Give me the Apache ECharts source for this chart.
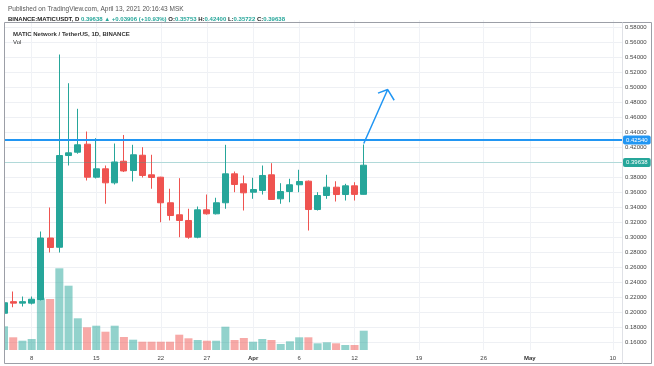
<!DOCTYPE html>
<html><head><meta charset="utf-8">
<script src="https://cdn.jsdelivr.net/npm/echarts@6/dist/echarts.min.js"></script>
<style>html,body{margin:0;padding:0;background:#fff}#c{width:654px;height:366px}</style>
</head><body><div id="c"></div>
<script>
// ---- categories (daily) ----
const dates = ['03-05','03-06','03-07','03-08','03-09','03-10','03-11','03-12','03-13','03-14',
'03-15','03-16','03-17','03-18','03-19','03-20','03-21','03-22','03-23','03-24','03-25','03-26',
'03-27','03-28','03-29','03-30','03-31','04-01','04-02','04-03','04-04','04-05','04-06','04-07',
'04-08','04-09','04-10','04-11','04-12','04-13','04-14','04-15','04-16','04-17','04-18','04-19',
'04-20','04-21','04-22','04-23','04-24','04-25','04-26','04-27','04-28','04-29','04-30','05-01',
'05-02','05-03','05-04','05-05','05-06','05-07','05-08','05-09','05-10','05-11'];
const tickDates = ['03-08','03-15','03-22','03-27','04-01','04-06','04-12','04-19','04-26','05-01','05-10'];
// ---- OHLC ----
const openP  = [0.199,0.2145,0.2125,0.2125,0.2173,0.2993,0.287,0.4093,0.4137,0.4244,0.3804,0.3916,0.3729,0.4017,0.3893,0.4097,0.3836,0.3804,0.3463,0.3303,0.3227,0.3004,0.3369,0.3316,0.3463,0.3849,0.3716,0.3604,0.3627,0.3836,0.3516,0.3613,0.3703,0.3751,0.3373,0.356,0.3671,0.3573,0.3689,0.35753];
const closeP = [0.213,0.2125,0.2145,0.2177,0.2993,0.2867,0.4093,0.4129,0.4236,0.3804,0.3916,0.3729,0.4007,0.3887,0.4103,0.3827,0.380,0.3463,0.3293,0.3227,0.3004,0.3369,0.3316,0.3463,0.3849,0.3707,0.3596,0.364,0.3827,0.3507,0.3613,0.3703,0.3747,0.3373,0.356,0.3671,0.3573,0.3689,0.3575,0.39638];
const lowP   = [0.193,0.207,0.208,0.2107,0.216,0.280,0.280,0.396,0.4117,0.376,0.3787,0.345,0.3707,0.3873,0.3747,0.380,0.365,0.3204,0.3227,0.3004,0.2983,0.299,0.3305,0.3307,0.3383,0.3604,0.336,0.3516,0.3573,0.350,0.345,0.347,0.3604,0.3093,0.336,0.3516,0.348,0.3493,0.3493,0.35722];
const highP  = [0.222,0.228,0.2213,0.2213,0.308,0.340,0.544,0.5057,0.4716,0.4413,0.4324,0.396,0.4253,0.4367,0.4236,0.4204,0.4103,0.381,0.365,0.3791,0.3383,0.3413,0.3573,0.353,0.4236,0.388,0.3827,0.3796,0.396,0.3991,0.3724,0.3783,0.3903,0.376,0.3604,0.3836,0.375,0.3716,0.3737,0.424];
// ---- volume (millions, estimated) ----
const volume = [237,127,93,110,517,510,817,643,317,227,243,183,243,130,103,83,83,83,83,153,117,100,93,93,233,100,120,83,110,100,60,87,127,127,67,77,67,50,50,193];
// ---- levels & drawing ----
const resistance = 0.4254;
const lastPrice = 0.39638;
const arrowIdx   = [39, 41.6, 40.55, 41.6, 42.3];
const arrowPrice = [0.4254, 0.4973, 0.4925, 0.4973, 0.4830];
const yTicks = {min:0.15, max:0.59, step:0.01};

const UP = '#26a69a', DOWN = '#ef5350';
const FONT = 'Liberation Sans, Arial, sans-serif';
const candleData = openP.map((o,i)=>[o, closeP[i], lowP[i], highP[i]]);
const volData = volume.map((v,i)=>({value:v, itemStyle:{color: closeP[i] >= openP[i] ? 'rgba(38,166,154,0.5)' : 'rgba(239,83,80,0.5)'}}));
const arrowData = arrowIdx.map((x,i)=>[x, arrowPrice[i]]);
const showTick = (idx, val) => tickDates.indexOf(val) >= 0;

const chart = echarts.init(document.getElementById('c'));
chart.setOption({
  animation: false,
  backgroundColor: '#fff',
  title: [
    {text:'Published on TradingView.com, April 13, 2021 20:16:43 MSK', left:3, top:1,
     textStyle:{fontSize:6.5, fontWeight:'normal', color:'#555', fontFamily:FONT}},
    {text:'{b|BINANCE:MATICUSDT, D} {g|0.39638 ▲ +0.03906 (+10.93%)} {k|O:}{g|0.35753} {k|H:}{g|0.42400} {k|L:}{g|0.35722} {k|C:}{g|0.39638}',
     left:3, top:11,
     textStyle:{fontSize:6, fontFamily:FONT, rich:{
       b:{fontSize:6, fontWeight:'bold', color:'#222', fontFamily:FONT},
       g:{fontSize:6, color:UP, fontFamily:FONT},
       k:{fontSize:6, color:'#222', fontFamily:FONT}}}},
    {text:'MATIC Network / TetherUS, 1D, BINANCE', left:8, top:26,
     textStyle:{fontSize:6, fontWeight:'bold', color:'#333', fontFamily:FONT}},
    {text:'Vol', left:8, top:34,
     textStyle:{fontSize:6, fontWeight:'normal', color:'#333', fontFamily:FONT}}
  ],
  grid: {left:4, right:32, top:20, bottom:16, containLabel:false},
  xAxis: [
    {type:'category', data:dates, boundaryGap:false, gridIndex:0,
     axisLine:{show:false}, axisTick:{show:false},
     axisLabel:{interval:showTick, margin:5, fontSize:6, color:'#444', fontFamily:FONT,
       formatter:(v)=>{ if (v.endsWith('-01')) { return '{m|' + (v.startsWith('04')?'Apr':'May') + '}'; } return String(parseInt(v.slice(3),10)); },
       rich:{m:{fontSize:6, fontWeight:'bold', color:'#333', fontFamily:FONT}}},
     splitLine:{show:true, interval:showTick, lineStyle:{color:'#f0f2f6', width:1}}},
    {type:'value', min:0, max:dates.length-1, show:false, gridIndex:0}
  ],
  yAxis: [
    {type:'value', position:'right', min:yTicks.min, max:yTicks.max, interval:yTicks.step, scale:true,
     axisLine:{show:false}, axisTick:{show:false},
     axisLabel:{margin:3, fontSize:6, color:'#444', fontFamily:FONT, align:'left',
       formatter:(v)=>{ const c = Math.round(v*100); return c % 2 === 0 ? v.toFixed(5) : ''; }},
     splitLine:{show:true, lineStyle:{color:['rgba(0,0,0,0)','#eef0f4'], width:1}}},
    {type:'value', min:0, max:3300, show:false, gridIndex:0}
  ],
  graphic: [
    {type:'rect', shape:{x:0, y:20, width:4.5, height:346}, style:{fill:'#fff'}, silent:true, z:99},
    {type:'rect', shape:{x:4.5, y:22.5, width:647, height:341}, style:{fill:'none', stroke:'#9c9fa7', lineWidth:1}, silent:true, z:100},
    {type:'line', shape:{x1:622.5, y1:22.5, x2:622.5, y2:363.5}, style:{stroke:'#dfe1e6', lineWidth:1}, silent:true, z:100}
  ],
  series: [
    {type:'bar', name:'Vol', xAxisIndex:0, yAxisIndex:1, data:volData, barWidth:8, silent:true, z:1},
    {type:'candlestick', name:'MATICUSDT', xAxisIndex:0, yAxisIndex:0, data:candleData, barWidth:6.5, z:3,
     itemStyle:{color:UP, color0:DOWN, borderColor:UP, borderColor0:DOWN, borderWidth:1},
     markLine:{silent:true, symbol:'none', animation:false,
       data:[
         {yAxis:resistance, lineStyle:{color:'#2196f3', width:2, type:'solid'},
          label:{show:true, position:'end', distance:1, formatter:resistance.toFixed(5), color:'#fff', backgroundColor:'#2196f3', padding:[2,3,1,3], borderRadius:2, fontSize:6, fontFamily:FONT}},
         {yAxis:lastPrice, lineStyle:{color:'rgba(38,166,154,0.3)', width:1, type:'solid'},
          label:{show:true, position:'end', distance:1, formatter:lastPrice.toFixed(5), color:'#fff', backgroundColor:UP, padding:[2,3,1,3], borderRadius:2, fontSize:6, fontFamily:FONT}}
       ]}},
    {type:'line', name:'arrow', xAxisIndex:1, yAxisIndex:0, data:arrowData, symbol:'none', silent:true, z:5,
     lineStyle:{color:'#2196f3', width:1.5}}
  ]
});
</script>
</body></html>
